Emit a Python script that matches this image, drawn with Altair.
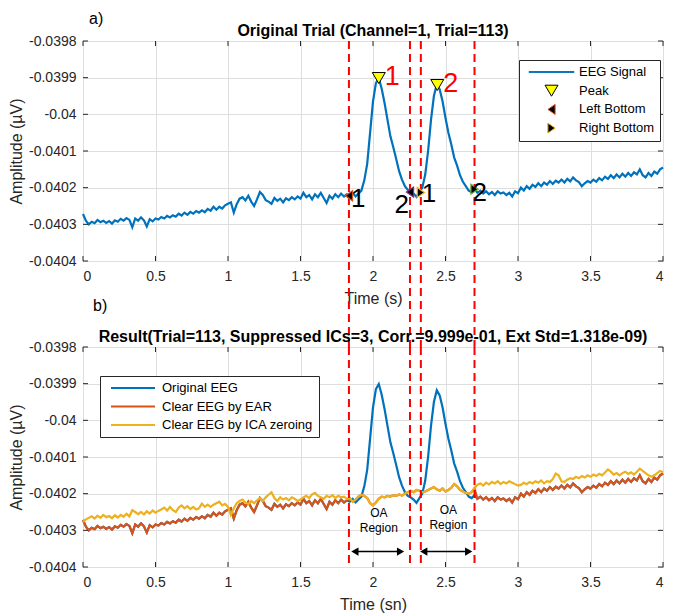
import altair as alt
import pandas as pd

FONT = "Liberation Sans"

# ---------------- data ----------------
time = [round(i * 0.02, 2) for i in range(201)]

eeg = [
    -0.040272, -0.040290, -0.040300, -0.040293, -0.040297, -0.040288, -0.040294, -0.040290, -0.040296, -0.040291,
    -0.040298, -0.040289, -0.040293, -0.040285, -0.040290, -0.040283, -0.040288, -0.040308, -0.040284, -0.040290,
    -0.040281, -0.040289, -0.040306, -0.040286, -0.040292, -0.040284, -0.040287, -0.040280, -0.040284, -0.040277,
    -0.040281, -0.040275, -0.040279, -0.040271, -0.040276, -0.040268, -0.040274, -0.040266, -0.040271, -0.040264,
    -0.040268, -0.040262, -0.040267, -0.040258, -0.040263, -0.040252, -0.040260, -0.040252, -0.040257, -0.040248,
    -0.040244, -0.040240, -0.040268, -0.040245, -0.040230, -0.040226, -0.040235, -0.040222, -0.040238, -0.040250,
    -0.040232, -0.040212, -0.040220, -0.040234, -0.040238, -0.040244, -0.040228, -0.040236, -0.040230, -0.040240,
    -0.040229, -0.040234, -0.040226, -0.040232, -0.040224, -0.040230, -0.040214, -0.040226, -0.040220, -0.040232,
    -0.040218, -0.040226, -0.040214, -0.040228, -0.040242, -0.040222, -0.040230, -0.040218, -0.040226, -0.040216,
    -0.040224, -0.040218, -0.040222, -0.040214, -0.040224, -0.040216, -0.040208, -0.040180, -0.040135, -0.040050,
    -0.039965, -0.039915, -0.039901, -0.039930, -0.039970, -0.040015, -0.040060, -0.040090, -0.040122, -0.040155,
    -0.040178, -0.040196, -0.040206, -0.040210, -0.040216, -0.040225, -0.040212, -0.040200, -0.040165, -0.040100,
    -0.040015, -0.039950, -0.039918, -0.039932, -0.039965, -0.040010, -0.040050, -0.040082, -0.040118, -0.040140,
    -0.040166, -0.040184, -0.040196, -0.040208, -0.040212, -0.040204, -0.040214, -0.040208, -0.040216, -0.040210,
    -0.040218, -0.040212, -0.040220, -0.040210, -0.040216, -0.040213, -0.040220, -0.040214, -0.040224, -0.040210,
    -0.040215, -0.040200, -0.040208, -0.040196, -0.040203, -0.040192, -0.040198, -0.040188, -0.040196, -0.040186,
    -0.040192, -0.040182, -0.040190, -0.040181, -0.040186, -0.040178, -0.040186, -0.040176, -0.040183, -0.040172,
    -0.040180, -0.040185, -0.040196, -0.040188, -0.040182, -0.040186, -0.040178, -0.040184, -0.040174, -0.040180,
    -0.040170, -0.040176, -0.040166, -0.040174, -0.040164, -0.040172, -0.040162, -0.040170, -0.040160, -0.040168,
    -0.040158, -0.040164, -0.040150, -0.040166, -0.040172, -0.040160, -0.040168, -0.040156, -0.040162, -0.040150,
    -0.040145,
]

ica = [
    -0.040277, -0.040270, -0.040266, -0.040262, -0.040268, -0.040260, -0.040266, -0.040258, -0.040264, -0.040261,
    -0.040267, -0.040259, -0.040265, -0.040258, -0.040263, -0.040255, -0.040262, -0.040245, -0.040250, -0.040256,
    -0.040250, -0.040257, -0.040248, -0.040254, -0.040246, -0.040252, -0.040247, -0.040243, -0.040238, -0.040246,
    -0.040236, -0.040245, -0.040250, -0.040238, -0.040232, -0.040240, -0.040234, -0.040242, -0.040236, -0.040243,
    -0.040240, -0.040227, -0.040236, -0.040230, -0.040236, -0.040230, -0.040226, -0.040222, -0.040232, -0.040228,
    -0.040236, -0.040258, -0.040240, -0.040226, -0.040220, -0.040216, -0.040224, -0.040228, -0.040220, -0.040226,
    -0.040218, -0.040212, -0.040220, -0.040210, -0.040203, -0.040196, -0.040212, -0.040220, -0.040210, -0.040216,
    -0.040212, -0.040218, -0.040210, -0.040214, -0.040220, -0.040216, -0.040210, -0.040206, -0.040212, -0.040202,
    -0.040198, -0.040206, -0.040210, -0.040214, -0.040206, -0.040210, -0.040204, -0.040212, -0.040206, -0.040210,
    -0.040208, -0.040214, -0.040212, -0.040222, -0.040216, -0.040208, -0.040203, -0.040206, -0.040212, -0.040226,
    -0.040232, -0.040224, -0.040214, -0.040208, -0.040210, -0.040206, -0.040208, -0.040204, -0.040206, -0.040202,
    -0.040205, -0.040200, -0.040196, -0.040192, -0.040196, -0.040190, -0.040192, -0.040196, -0.040194, -0.040190,
    -0.040186, -0.040182, -0.040188, -0.040192, -0.040186, -0.040194, -0.040190, -0.040184, -0.040174, -0.040180,
    -0.040190, -0.040194, -0.040198, -0.040200, -0.040196, -0.040185, -0.040176, -0.040172, -0.040178, -0.040170,
    -0.040175, -0.040168, -0.040172, -0.040166, -0.040174, -0.040168, -0.040172, -0.040166, -0.040170, -0.040174,
    -0.040178, -0.040176, -0.040170, -0.040174, -0.040168, -0.040172, -0.040166, -0.040170, -0.040164, -0.040172,
    -0.040166, -0.040168, -0.040160, -0.040145, -0.040150, -0.040166, -0.040168, -0.040162, -0.040158, -0.040160,
    -0.040154, -0.040158, -0.040152, -0.040156, -0.040150, -0.040154, -0.040148, -0.040152, -0.040146, -0.040150,
    -0.040142, -0.040134, -0.040140, -0.040148, -0.040144, -0.040150, -0.040144, -0.040140, -0.040146, -0.040142,
    -0.040148, -0.040140, -0.040132, -0.040138, -0.040144, -0.040150, -0.040154, -0.040150, -0.040144, -0.040138,
    -0.040141,
]

# EAR output: identical to the raw EEG outside the OA region, hidden under the ICA trace inside it
ear = eeg[:92] + ica[92:136] + eeg[136:]

boundary_t = [1.834, 2.255, 2.33, 2.70]

peak_t = [2.04, 2.443]
peak_v = [-0.039901, -0.039920]
peak_labels = ["1", "2"]

bottom_t = [1.834, 2.255, 2.33, 2.70]
bottom_v = [-0.040222, -0.040212, -0.040213, -0.040204]
bottom_labels = ["1", "2", "1", "2"]
bottom_kind = ["Left Bottom", "Left Bottom", "Right Bottom", "Right Bottom"]

oa_t = [2.04, 2.04, 2.52, 2.52]
oa_v = [-0.040254, -0.040293, -0.040244, -0.040286]
oa_text = ["OA", "Region", "OA", "Region"]

arrow_t1 = [1.875, 2.35]
arrow_t2 = [2.19, 2.66]
arrow_v = [-0.040358, -0.040358]

top_kinds = ["EEG Signal", "Peak", "Left Bottom", "Right Bottom"]
bottom_series = ["Original EEG", "Clear EEG by EAR", "Clear EEG by ICA zeroing"]

title_a = "Original Trial (Channel=1, Trial=113)"
title_b = "Result(Trial=113, Suppressed ICs=3, Corr.=9.999e-01, Ext Std=1.318e-09)"

x_ticks = [0, 0.5, 1, 1.5, 2, 2.5, 3, 3.5, 4]
y_ticks = [-0.0404, -0.0403, -0.0402, -0.0401, -0.04, -0.0399, -0.0398]

# ---------------- styles ----------------
BLUE, ORANGE, YELLOW = "#0072BD", "#D95319", "#EDB120"
AX = "#262626"
LINE_PATH = "M-2.25,-0.04H2.25V0.04H-2.25Z"
PEAK_PATH = "M-0.65,-0.55H0.65L0,0.55Z"
LEFT_PATH = "M0.36,-0.5V0.5L-0.36,0Z"
RIGHT_PATH = "M-0.36,-0.5V0.5L0.36,0Z"
bottom_edges = [ORANGE, "#7E2F8E", YELLOW, "#77AC30"]
bottom_shapes = [LEFT_PATH, LEFT_PATH, RIGHT_PATH, RIGHT_PATH]
SYM = 400
W, H, GAP = 580, 220, 86
TICK = 5

xscale = alt.Scale(domain=[0, 4], nice=False, zero=False)
yscale = alt.Scale(domain=[-0.0404, -0.0398], nice=False, zero=False)

def xax(title):
    return alt.Axis(title=title, values=x_ticks, format="~g", labelPadding=8, titlePadding=7)

yax = alt.Axis(title="Amplitude (µV)", values=y_ticks, tickCount=len(y_ticks),
               labelExpr="'-' + format(abs(datum.value), '.4~f')",
               labelPadding=7, titlePadding=4)

X = alt.X("t:Q", scale=xscale)
Y = alt.Y("v:Q", scale=yscale)

df_xt = pd.DataFrame({"t": x_ticks})
df_yt = pd.DataFrame({"v": y_ticks})


def inner_ticks():
    """MATLAB-style inward ticks on all four sides, at the axis tick values."""
    return [
        alt.Chart(df_xt).mark_rule(color=AX, strokeWidth=1).encode(x=X, y=alt.value(0), y2=alt.value(TICK)),
        alt.Chart(df_xt).mark_rule(color=AX, strokeWidth=1).encode(x=X, y=alt.value(H - TICK), y2=alt.value(H)),
        alt.Chart(df_yt).mark_rule(color=AX, strokeWidth=1).encode(y=Y, x=alt.value(0), x2=alt.value(TICK)),
        alt.Chart(df_yt).mark_rule(color=AX, strokeWidth=1).encode(y=Y, x=alt.value(W - TICK), x2=alt.value(W)),
    ]


def header(tag, tag_x, tag_y, title):
    tag_mark = alt.Chart(pd.DataFrame({"s": [tag]})).mark_text(
        fontSize=16, font=FONT, align="left", baseline="middle", color="black"
    ).encode(text="s:N", x=alt.value(tag_x), y=alt.value(tag_y))
    title_mark = alt.Chart(pd.DataFrame({"s": [title]})).mark_text(
        fontSize=16, font=FONT, fontWeight="bold", align="center", baseline="alphabetic", color="black"
    ).encode(text="s:N", x=alt.value(W / 2), y=alt.value(-5))
    return [tag_mark, title_mark]


# ---------------- top panel ----------------
df_eeg = pd.DataFrame({"t": time, "v": eeg})
df_bound = pd.DataFrame({"t": boundary_t})
df_peak = pd.DataFrame({"t": peak_t, "v": peak_v, "kind": ["Peak"] * 2, "lbl": peak_labels})
df_bot = pd.DataFrame({"t": bottom_t, "v": bottom_v, "kind": bottom_kind, "lbl": bottom_labels})

top_line = alt.Chart(df_eeg).mark_line(color=BLUE, strokeWidth=2.2).encode(
    x=alt.X("t:Q", scale=xscale, axis=xax("Time (s)")),
    y=alt.Y("v:Q", scale=yscale, axis=yax),
)

top_rules = alt.Chart(df_bound).mark_rule(color="#FF0000", strokeDash=[8, 5], strokeWidth=2).encode(
    x=X, y=alt.value(0), y2=alt.value(H + GAP)
)

top_legend = alt.Legend(
    title=None, orient="none", legendX=436, legendY=19, strokeColor=AX,
    fillColor="white", padding=5, symbolOffset=17, labelOffset=17, rowPadding=4.7,
    clipHeight=14, symbolSize=SYM, symbolStrokeWidth=1,
    labelFont=FONT, labelFontSize=13, labelColor="black", cornerRadius=0,
)

peaks = alt.Chart(df_peak).mark_point(filled=True, opacity=1, size=SYM, strokeWidth=1).encode(
    x=X, y=Y,
    shape=alt.Shape("kind:N", scale=alt.Scale(domain=top_kinds,
                    range=[LINE_PATH, PEAK_PATH, LEFT_PATH, RIGHT_PATH]),
                    legend=top_legend),
    fill=alt.Fill("kind:N", scale=alt.Scale(domain=top_kinds,
                  range=[BLUE, "#FFFF00", "#000000", "#000000"])),
    stroke=alt.Stroke("kind:N", scale=alt.Scale(domain=top_kinds,
                      range=[BLUE, "#000000", ORANGE, YELLOW])),
)

bottom_marks = []
for i in range(len(bottom_t)):
    bottom_marks.append(
        alt.Chart(df_bot.iloc[[i]]).mark_point(
            filled=True, opacity=1, fill="black", stroke=bottom_edges[i],
            strokeWidth=1.2, shape=bottom_shapes[i], size=SYM,
        ).encode(x=X, y=Y)
    )

peak_text = alt.Chart(df_peak).mark_text(
    color="#FF0000", fontSize=27, font=FONT, align="left", baseline="alphabetic", dx=6, dy=7
).encode(x=X, y=Y, text="lbl:N")

label_offsets = [(2, 11, "left"), (-1, 21, "right"), (1, 10, "left"), (-2, 12, "left")]
bot_text = []
for i, (dx, dy, al) in enumerate(label_offsets):
    bot_text.append(
        alt.Chart(df_bot.iloc[[i]]).mark_text(
            color="black", fontSize=26, font=FONT, align=al, baseline="alphabetic", dx=dx, dy=dy
        ).encode(x=X, y=Y, text="lbl:N")
    )

top = alt.layer(
    top_line, *inner_ticks(), top_rules, peaks, *bottom_marks, peak_text, *bot_text,
    *header("a)", 6, -22, title_a),
).properties(width=W, height=H)

# ---------------- bottom panel ----------------
df_lines = pd.concat([
    pd.DataFrame({"t": time, "v": eeg, "series": bottom_series[0]}),
    pd.DataFrame({"t": time, "v": ear, "series": bottom_series[1]}),
    pd.DataFrame({"t": time, "v": ica, "series": bottom_series[2]}),
])

bottom_legend = alt.Legend(
    title=None, orient="none", legendX=17, legendY=29, strokeColor=AX,
    fillColor="white", padding=5, symbolOffset=5, labelOffset=6, rowPadding=4.5,
    clipHeight=14, symbolType="stroke", symbolSize=1936, symbolStrokeWidth=2,
    labelFont=FONT, labelFontSize=13, labelColor="black", cornerRadius=0,
)
cscale = alt.Scale(domain=bottom_series, range=[BLUE, ORANGE, YELLOW])

blines = []
for s in bottom_series:
    blines.append(
        alt.Chart(df_lines[df_lines.series == s]).mark_line(strokeWidth=2.2).encode(
            x=alt.X("t:Q", scale=xscale, axis=xax("Time (sn)")),
            y=alt.Y("v:Q", scale=yscale, axis=yax),
            color=alt.Color("series:N", scale=cscale, legend=bottom_legend),
        )
    )

b_rules = alt.Chart(df_bound).mark_rule(color="#FF0000", strokeDash=[8, 5], strokeWidth=2).encode(
    x=X, y=alt.value(0), y2=alt.value(H)
)

df_oa = pd.DataFrame({"t": oa_t, "v": oa_v, "s": oa_text})
oa = alt.Chart(df_oa).mark_text(fontSize=12, font=FONT, color="black", baseline="middle").encode(
    x=X, y=Y, text="s:N"
)

df_arrow = pd.DataFrame({"t1": arrow_t1, "t2": arrow_t2, "v": arrow_v})
arrow_line = alt.Chart(df_arrow).mark_rule(color="black", strokeWidth=1.5).encode(
    x=alt.X("t1:Q", scale=xscale), x2="t2:Q", y=Y
)
arrow_l = alt.Chart(df_arrow).mark_point(shape="triangle-left", filled=True, color="black",
                                         opacity=1, size=70).encode(
    x=alt.X("t1:Q", scale=xscale), y=Y)
arrow_r = alt.Chart(df_arrow).mark_point(shape="triangle-right", filled=True, color="black",
                                         opacity=1, size=70).encode(
    x=alt.X("t2:Q", scale=xscale), y=Y)

bottom = alt.layer(
    *blines, *inner_ticks(), b_rules, oa, arrow_line, arrow_l, arrow_r,
    *header("b)", 10, -41, title_b),
).properties(width=W, height=H)

chart = alt.vconcat(
    top, bottom, spacing=GAP, bounds="flush",
    padding={"left": 0, "right": 0, "top": 2, "bottom": 0},
).resolve_legend(
    color="independent", shape="independent", fill="independent", stroke="independent",
).configure(
    background="white",
).configure_view(
    stroke=AX, strokeWidth=1,
).configure_axis(
    grid=True, gridColor="#DEDEDE", gridWidth=1, ticks=False, domain=False,
    labelFont=FONT, labelFontSize=14, labelColor=AX,
    titleFont=FONT, titleFontSize=16, titleFontWeight="normal", titleColor=AX,
)

chart.save("out.html", embed_options={"renderer": "svg", "actions": False})
